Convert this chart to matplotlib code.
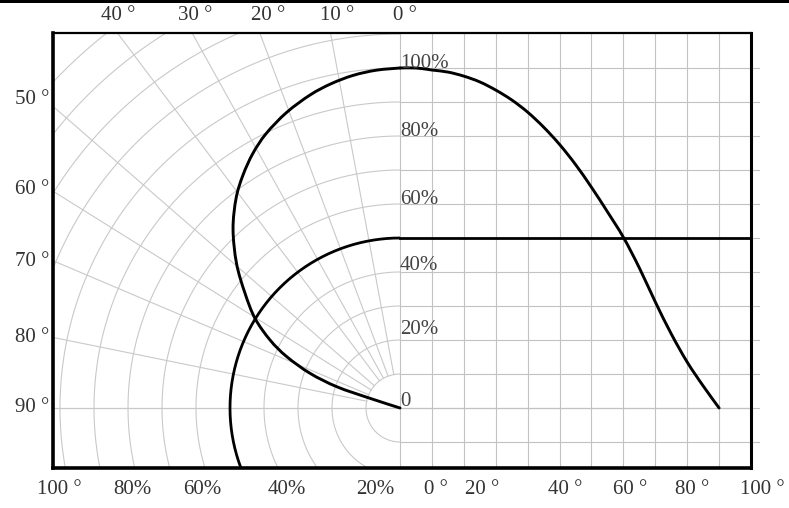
import numpy as np
import matplotlib
matplotlib.use("Agg")
import matplotlib.pyplot as plt
from matplotlib.patches import Rectangle, PathPatch
from matplotlib.path import Path

# ---------------- data ----------------
# polar (left) radiation curve: angle from axis (deg), relative intensity (%)
polar_angle = [0, 4, 8, 12, 16, 21, 26, 30, 34, 38, 43, 48.5,
               53.5, 58.3, 62.4, 65.6, 68.9, 71.4, 72.1, 73]
polar_rel = [100, 99.6, 98.8, 97.5, 95.8, 93.1, 89.8, 86.5, 82.6, 78.3, 72.0, 64.2,
             56.7, 50.1, 43.1, 36.6, 28.4, 19.6, 9.3, 0]

# rectangular (right) curve: angle (deg) vs relative intensity (%)
rect_angle = [-10, -5, 0, 5, 10, 15, 20, 25, 30, 35, 40, 45, 50, 55, 60,
              65, 70, 75, 80, 85, 90]
rect_rel = [100, 100, 99.4, 98.8, 97.6, 95.9, 93.5, 90.6, 87.0, 82.6, 77.5,
            71.6, 64.9, 57.7, 50.2, 41.2, 31.2, 21.8, 13.5, 6.5, 0]

half_level = 50  # half-intensity level (%)

# polar grid
ring_levels = list(range(10, 160, 10))
ray_angles = [10.5, 20.5, 29, 37, 49, 58, 67, 78.5]

# rectangular grid
rect_xticks = list(range(-10, 100, 10))
rect_yticks = list(range(-10, 110, 10))

# labels
top_labels = ["40 °", "30 °", "20 °", "10 °", "0 °"]
left_labels = ["50 °", "60 °", "70 °", "80 °", "90 °"]
bottom_labels = ["100 °", "80%", "60%", "40%", "20%", "0 °", "20 °", "40 °",
                 "60 °", "80 °", "100 °"]
inner_labels = ["100%", "80%", "60%", "40%", "20%", "0"]

# ---------------- layout ----------------
W, H = 789, 508
PX = 3.4            # pixels per 1 % of radius
OX, OY = 400, 408   # polar origin (pixel)
L, R, T, B = 53, 751, 33, 468
DEG0 = 432          # pixel of 0 deg on right scale
PXDEG = 3.19        # pixels per degree on right scale


def deg_to_x(d):
    return (DEG0 - OX + np.asarray(d, float) * PXDEG) / PX


def smooth_path(x, y):
    """Catmull-Rom style cubic Bezier path through the given points."""
    P = np.column_stack([x, y]).astype(float)
    n = len(P)
    verts = [P[0]]
    codes = [Path.MOVETO]
    for i in range(n - 1):
        p0 = P[i - 1] if i > 0 else P[i]
        p1, p2 = P[i], P[i + 1]
        p3 = P[i + 2] if i + 2 < n else P[i + 1]
        c1 = p1 + (p2 - p0) / 6.0
        c2 = p2 - (p3 - p1) / 6.0
        verts += [c1, c2, p2]
        codes += [Path.CURVE4] * 3
    return Path(verts, codes)


fig = plt.figure(figsize=(W / 100, H / 100), dpi=100)
ax = fig.add_axes([L / W, 1 - B / H, (R - L) / W, (B - T) / H])
xmin, xmax = -(OX - L) / PX, (R - OX) / PX
ymin, ymax = -(B - OY) / PX, (OY - T) / PX
ax.set_xlim(xmin, xmax)
ax.set_ylim(ymin, ymax)
ax.set_xticks([])
ax.set_yticks([])

gcol = "#c9c9c9"
# polar rings (left half)
th = np.radians(np.linspace(0, 180, 400))
for r in ring_levels:
    ax.plot(-r * np.sin(th), r * np.cos(th), color=gcol, lw=0.8, zorder=1)
# polar rays
for a in ray_angles:
    t = np.radians(a)
    ax.plot([-10 * np.sin(t), -300 * np.sin(t)], [10 * np.cos(t), 300 * np.cos(t)],
            color=gcol, lw=0.8, zorder=1)
# 0% / 90 deg line across the whole width
ax.plot([xmin, xmax], [0, 0], color=gcol, lw=0.9, zorder=1)

# rectangular grid
rcol = "#c2c2c2"
for d in rect_xticks:
    x = deg_to_x(d)
    ax.plot([x, x], [ymin, ymax], color=rcol, lw=0.8, zorder=1)
for p in rect_yticks:
    ax.plot([0, xmax + 8 / PX], [p, p], color=rcol, lw=0.8, zorder=1, clip_on=False)

# half-intensity circle and line
th2 = np.radians(np.linspace(0, 180, 400))
ax.plot(-half_level * np.sin(th2), half_level * np.cos(th2), color="black", lw=2.0,
        zorder=3, solid_capstyle="butt")
ax.plot([0, xmax], [half_level, half_level], color="black", lw=2.0, zorder=3)

# polar curve
pa = np.radians(polar_angle)
pr = np.asarray(polar_rel, float)
ax.add_patch(PathPatch(smooth_path(-pr * np.sin(pa), pr * np.cos(pa)),
                       fill=False, edgecolor="black", lw=2.1, zorder=4,
                       capstyle="round", joinstyle="round"))

# rectangular curve
ax.add_patch(PathPatch(smooth_path(deg_to_x(rect_angle), rect_rel),
                       fill=False, edgecolor="black", lw=2.1, zorder=4,
                       capstyle="round", joinstyle="round"))

# spines
for side, w in (("left", 2.6), ("bottom", 2.6), ("top", 1.6), ("right", 2.2)):
    ax.spines[side].set_linewidth(w)
    ax.spines[side].set_color("black")

# top black band
fig.add_artist(Rectangle((0, 1 - 3 / H), 1, 3 / H, transform=fig.transFigure,
                         color="black", lw=0))

font = dict(family=["Liberation Serif", "DejaVu Serif"], fontsize=15)
tc = "#333333"


def ftext(x, y, s, ha="center", color=tc, **kw):
    fig.text(x / W, 1 - y / H, s, ha=ha, va="center", color=color, **font, **kw)


for s, x in zip(top_labels, [118, 195, 268, 337, 405]):
    ftext(x, 15, s)
for s, y in zip(left_labels, [100, 190, 262, 338, 407]):
    ftext(32, y, s)
for s, x in zip(bottom_labels, [59, 132, 202, 287, 375, 436, 482, 565, 630, 692, 762]):
    ftext(x, 490, s)
for s, y in zip(inner_labels, [63, 132, 199, 265, 330, 402]):
    ftext(400, y, s, ha="left", color="#444444")

fig.savefig("out.png", dpi=100)
